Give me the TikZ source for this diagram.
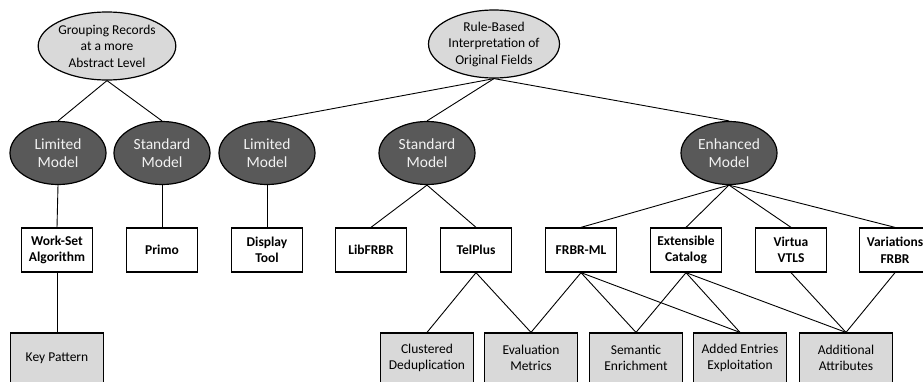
\documentclass[tikz,border=0pt]{standalone}
\usepackage{fontspec}
\setmainfont{Carlito}
\usepackage{xcolor}
\usetikzlibrary{shapes.geometric}

\definecolor{lightgrey}{HTML}{D9D9D9}
\definecolor{darkgrey}{HTML}{595959}

\tikzset{
    topic/.style={ellipse, draw, line width=1.2pt, fill=lightgrey, minimum width=131pt,
        minimum height=68pt, inner sep=0pt, align=center, font=\fontsize{13.5}{16.5}\selectfont},
    model/.style={ellipse, draw, line width=1.2pt, fill=darkgrey, text=white!95!black,
        minimum width=96pt, minimum height=63pt, inner sep=0pt, align=center,
        font=\fontsize{15.5}{18.5}\selectfont},
    system/.style={rectangle, draw, line width=1.3pt, fill=white, minimum width=71pt,
        minimum height=44pt, inner sep=0pt, align=center, font=\bfseries\fontsize{13.5}{16.5}\selectfont},
    feature/.style={rectangle, draw, line width=1.2pt, fill=lightgrey, minimum width=93pt,
        minimum height=50pt, inner sep=0pt, align=center, font=\fontsize{13.5}{16.5}\selectfont},
    link/.style={line width=0.9pt},
}

\begin{document}
\begin{tikzpicture}[x=1pt, y=-1pt]
    \useasboundingbox (0, 0) rectangle (923, 381);
    \clip (0, 0) rectangle (923, 381);

    % top level
    \node [topic] (grouping) at (107, 46) {Grouping Records\\at a more\\Abstract Level};
    \node [topic] (rulebased) at (494, 44) {Rule-Based\\Interpretation of\\Original Fields};

    % models
    \node [model] (glimited) at (58, 153) {Limited\\Model};
    \node [model] (gstandard) at (162, 153) {Standard\\Model};
    \node [model] (rlimited) at (267, 153) {Limited\\Model};
    \node [model] (rstandard) at (427, 153) {Standard\\Model};
    \node [model] (renhanced) at (729, 153) {Enhanced\\Model};

    % systems
    \node [system] (workset) at (57, 250) {Work-Set\\Algorithm};
    \node [system] (primo) at (162, 250) {Primo};
    \node [system] (display) at (267, 250) {Display\\Tool};
    \node [system] (libfrbr) at (371, 250) {LibFRBR};
    \node [system] (telplus) at (476, 250) {TelPlus};
    \node [system] (frbrml) at (581, 250) {FRBR-ML};
    \node [system] (xcatalog) at (686, 250) {Extensible\\Catalog};
    \node [system] (virtua) at (791, 250) {Virtua\\VTLS};
    \node [system] (variations) at (895, 250) {Variations\\FRBR};

    % features
    \node [feature] (keypattern) at (57, 358) {Key Pattern};
    \node [feature] (clustered) at (427, 358) {Clustered\\Deduplication};
    \node [feature] (evaluation) at (531, 358) {Evaluation\\Metrics};
    \node [feature] (semantic) at (636, 358) {Semantic\\Enrichment};
    \node [feature] (addedentries) at (740, 358) {Added Entries\\Exploitation};
    \node [feature] (attributes) at (846, 358) {Additional\\Attributes};

    % links
    \foreach \a/\b in {grouping/glimited, grouping/gstandard,
            rulebased/rlimited, rulebased/rstandard, rulebased/renhanced,
            glimited/workset, gstandard/primo, rlimited/display,
            rstandard/libfrbr, rstandard/telplus,
            renhanced/frbrml, renhanced/xcatalog, renhanced/virtua, renhanced/variations,
            workset/keypattern, telplus/clustered, telplus/evaluation,
            frbrml/evaluation, frbrml/semantic, frbrml/addedentries,
            xcatalog/semantic, xcatalog/addedentries, xcatalog/attributes,
            virtua/attributes, variations/attributes}
        \draw [link] (\a.south) -- (\b.north);
\end{tikzpicture}
\end{document}
